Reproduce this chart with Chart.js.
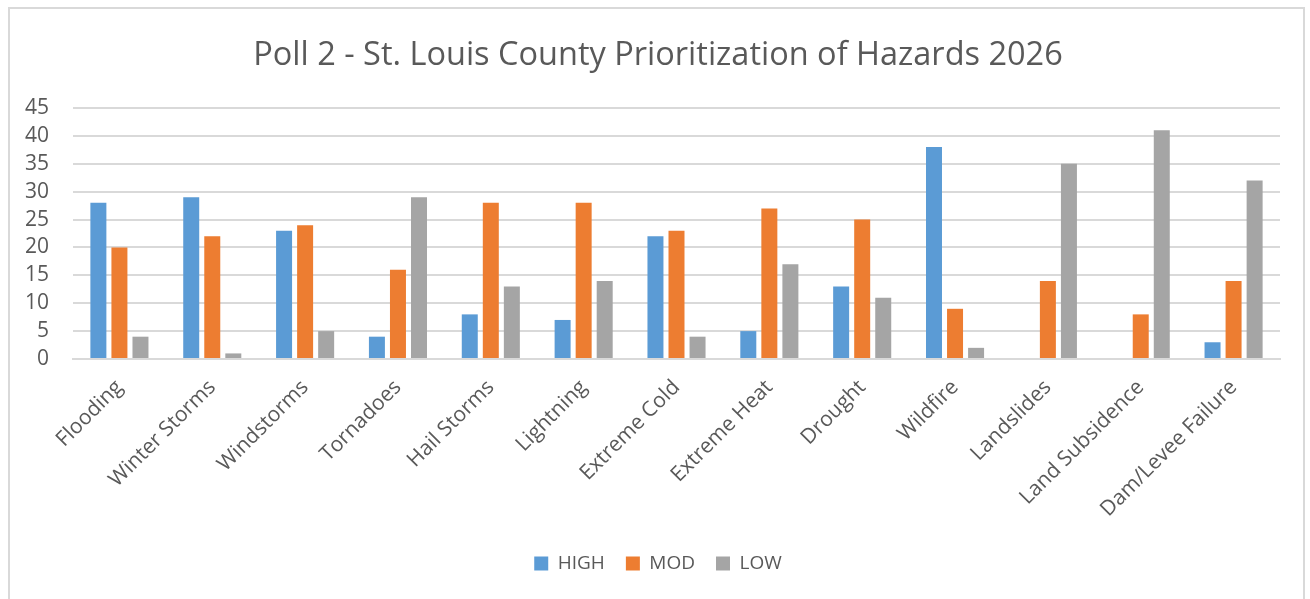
<!DOCTYPE html>
<html>
<head>
<meta charset="utf-8">
<script src="https://cdn.jsdelivr.net/npm/chart.js@4.4.1/dist/chart.umd.min.js"></script>
<style>
  html, body { margin: 0; padding: 0; background: #ffffff; }
  body { width: 1310px; height: 599px; position: relative; overflow: hidden; }
  #frame { position: absolute; left: 8px; top: 7px; width: 1297px; height: 600px; border: 2px solid #d9d9d9; box-sizing: border-box; }
  #wrap { position: absolute; left: 0; top: 0; width: 1310px; height: 599px; }
</style>
</head>
<body>
<div id="frame"></div>
<div id="wrap"><canvas id="c" width="1310" height="599"></canvas></div>
<script>
const titleText = "Poll 2 - St. Louis County Prioritization of Hazards 2026";
const categories = ["Flooding", "Winter Storms", "Windstorms", "Tornadoes", "Hail Storms", "Lightning", "Extreme Cold", "Extreme Heat", "Drought", "Wildfire", "Landslides", "Land Subsidence", "Dam/Levee Failure"];
const highValues = [28, 29, 23, 4, 8, 7, 22, 5, 13, 38, 0, 0, 3];
const modValues  = [20, 22, 24, 16, 28, 28, 23, 27, 25, 9, 14, 8, 14];
const lowValues  = [4, 1, 5, 29, 13, 14, 4, 17, 11, 2, 35, 41, 32];
const seriesNames = ["HIGH", "MOD", "LOW"];
const yTicks = [0, 5, 10, 15, 20, 25, 30, 35, 40, 45];

const FONT = "'Open Sans', 'Noto Sans', sans-serif";
const TXT = "#595959";

// Center title and legend on the chart frame (not on the padded area)
const centerOnFrame = {
  id: 'centerOnFrame',
  afterLayout(chart) {
    if (chart.titleBlock) { chart.titleBlock.left = 10; chart.titleBlock.right = 1306; }
    if (chart.legend) { chart.legend.left = 10; chart.legend.right = 1306; }
  }
};

new Chart(document.getElementById('c'), {
  type: 'bar',
  data: {
    labels: categories,
    datasets: [
      { label: seriesNames[0], data: highValues, backgroundColor: '#5b9bd5' },
      { label: seriesNames[1], data: modValues, backgroundColor: '#ed7d31' },
      { label: seriesNames[2], data: lowValues, backgroundColor: '#a5a5a5' }
    ]
  },
  plugins: [centerOnFrame],
  options: {
    responsive: false,
    animation: false,
    datasets: { bar: { categoryPercentage: 0.68, barPercentage: 0.76 } },
    layout: { padding: { left: 10, right: 30, top: 10, bottom: 16 } },
    plugins: {
      tooltip: { enabled: false },
      title: {
        display: true,
        text: titleText,
        color: TXT,
        font: { family: FONT, size: 32.5, weight: 'normal' },
        padding: { top: 26, bottom: 33 }
      },
      legend: {
        position: 'bottom',
        labels: {
          color: TXT,
          font: { family: FONT, size: 19 },
          boxWidth: 14,
          boxHeight: 14,
          padding: 21
        }
      }
    },
    scales: {
      x: {
        grid: { display: false, drawTicks: false },
        border: { display: true, color: '#d9d9d9', width: 2 },
        ticks: {
          color: TXT,
          font: { family: FONT, size: 21 },
          minRotation: 45,
          maxRotation: 45,
          padding: 16,
          autoSkip: false
        },
        afterFit: function(s) { s.height = 174; }
      },
      y: {
        min: 0,
        max: 45,
        afterBuildTicks: function(s) { s.ticks = yTicks.map(v => ({ value: v })); },
        grid: { color: '#d9d9d9', lineWidth: 2, drawTicks: false },
        border: { display: false },
        ticks: {
          color: TXT,
          font: { family: FONT, size: 21 },
          padding: 24,
          autoSkip: false
        },
        afterFit: function(s) { s.width = 63; }
      }
    }
  }
});
</script>
</body>
</html>
